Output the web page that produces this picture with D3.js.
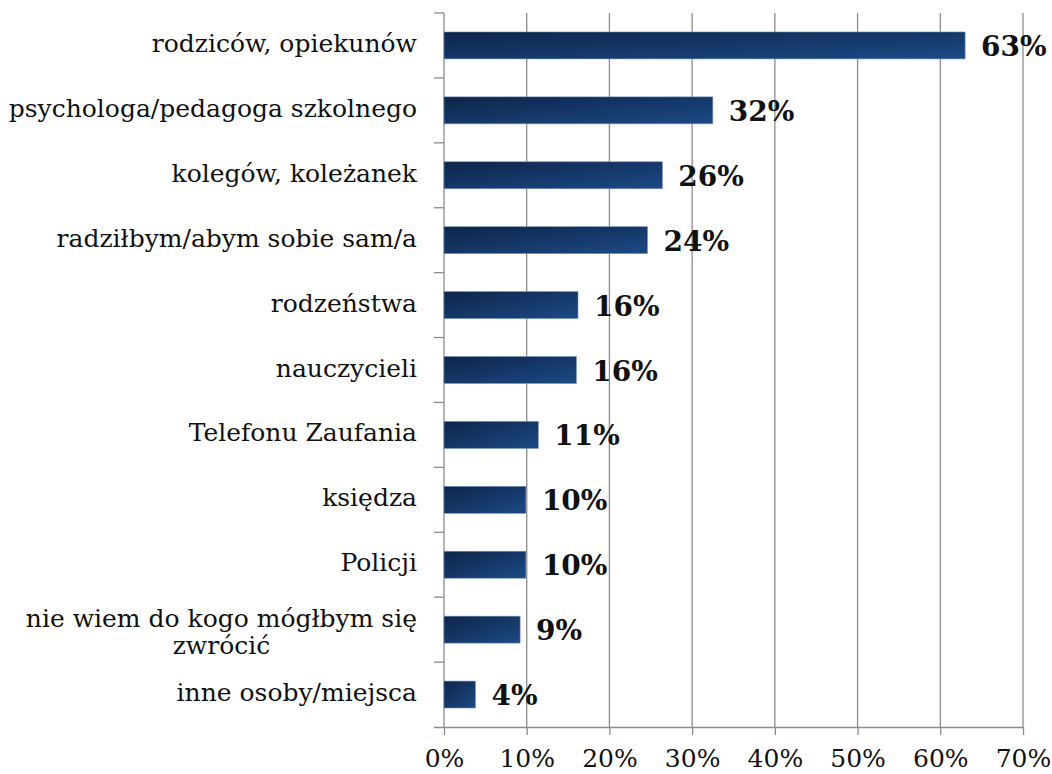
<!DOCTYPE html>
<html><head><meta charset="utf-8">
<script src="https://cdn.jsdelivr.net/npm/d3@7"></script>
<style>body{margin:0;background:#fff}svg{display:block}</style>
</head><body>
<script>
const categories = ["rodziców, opiekunów","psychologa/pedagoga szkolnego","kolegów, koleżanek","radziłbym/abym sobie sam/a","rodzeństwa","nauczycieli","Telefonu Zaufania","księdza","Policji","nie wiem do kogo mógłbym się\nzwrócić","inne osoby/miejsca"];
const values = [63, 32.5, 26.4, 24.6, 16.2, 16.0, 11.4, 9.9, 9.9, 9.2, 3.8];
const valueLabels = ["63%","32%","26%","24%","16%","16%","11%","10%","10%","9%","4%"];
const xTicks = [0,10,20,30,40,50,60,70];

const W=1052,H=774;
const m={l:444,r:29,t:13,b:47};
const svg=d3.select("body").append("svg").attr("width",W).attr("height",H);
const defs=svg.append("defs");
const g1=defs.append("linearGradient").attr("id","bg").attr("x1",0).attr("y1",0).attr("x2",1).attr("y2",1);
g1.append("stop").attr("offset","0%").attr("stop-color","#0e2549");
g1.append("stop").attr("offset","100%").attr("stop-color","#1c4a86");

const x=d3.scaleLinear().domain([0,70]).range([m.l,W-m.r]);
const y=d3.scaleBand().domain(categories).range([m.t,H-m.b]).paddingInner(0.585).paddingOuter(0.2925);
const yb=d3.scaleBand().domain(categories).range([m.t,H-m.b]);
const font="'DejaVu Serif', serif";
const fs=25;

// grid
svg.append("g").selectAll("line").data(xTicks.slice(1)).join("line")
 .attr("x1",d=>x(d)).attr("x2",d=>x(d)).attr("y1",m.t).attr("y2",H-m.b)
 .attr("stroke","#8c8c8c").attr("stroke-width",1.3);

// x axis
const xa=svg.append("g").attr("transform",`translate(0,${H-m.b})`)
 .call(d3.axisBottom(x).tickValues(xTicks).tickFormat(d=>d+"%").tickSize(8).tickSizeOuter(0).tickPadding(14));
xa.select(".domain").attr("stroke","#8c8c8c").attr("stroke-width",1.3).attr("d",`M${m.l-10},0.5H${x(70)}`);
xa.selectAll(".tick line").attr("stroke","#8c8c8c").attr("stroke-width",1.3);
xa.selectAll("text").attr("font-family",font).attr("font-size",fs).attr("fill","#111");

// y axis line + ticks at band boundaries
svg.append("line").attr("x1",m.l).attr("x2",m.l).attr("y1",m.t).attr("y2",H-m.b).attr("stroke","#8c8c8c").attr("stroke-width",1.3);
svg.append("g").selectAll("line").data(categories).join("line")
 .attr("x1",m.l-10).attr("x2",m.l).attr("y1",d=>yb(d)).attr("y2",d=>yb(d))
 .attr("stroke","#8c8c8c").attr("stroke-width",1.3);

// bars
svg.append("g").selectAll("rect").data(categories).join("rect")
 .attr("x",x(0)).attr("y",d=>y(d)).attr("height",y.bandwidth())
 .attr("width",(d,i)=>x(values[i])-x(0)).attr("fill","url(#bg)")
 .attr("stroke","#6f8fb8").attr("stroke-width",0.6);

// value labels
svg.append("g").selectAll("text").data(categories).join("text")
 .attr("x",(d,i)=>x(values[i])+16).attr("y",d=>y(d)+y.bandwidth()/2+3)
 .attr("dominant-baseline","middle").attr("font-family",font).attr("font-weight","bold")
 .attr("font-size",28).attr("fill","#111").text((d,i)=>valueLabels[i]);

// category labels
const lab=svg.append("g");
categories.forEach(c=>{
  const lines=c.split("\n");
  const cy=y(c)+y.bandwidth()/2;
  const lh=27;
  const t=lab.append("text").attr("font-family",font).attr("font-size",fs).attr("fill","#111");
  if(lines.length===1){
    t.attr("x",m.l-27).attr("y",cy).attr("dominant-baseline","middle").attr("text-anchor","end").text(c);
  } else {
    const tmp=lab.append("text").attr("font-family",font).attr("font-size",fs).text(lines[0]);
    const w=tmp.node().getComputedTextLength(); tmp.remove();
    const cx=m.l-27-w/2;
    t.attr("text-anchor","middle");
    lines.forEach((l,k)=>t.append("tspan").attr("x",cx).attr("y",cy+4+(k-(lines.length-1)/2)*lh).attr("dominant-baseline","middle").text(l));
  }
});
</script>
</body></html>
